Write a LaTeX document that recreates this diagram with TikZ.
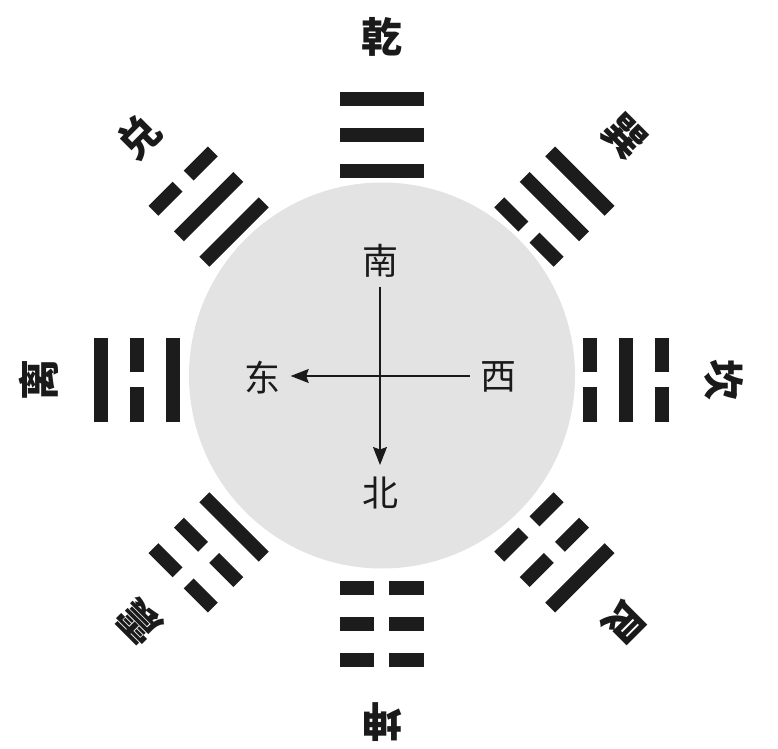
\documentclass[tikz,border=0pt]{standalone}
\usepackage{fontspec}
\newfontfamily\cjk{Noto Sans CJK SC}
\usetikzlibrary{arrows.meta}
\definecolor{barcol}{RGB}{28,28,28}
\definecolor{disccol}{RGB}{227,227,227}
\definecolor{txtcol}{RGB}{26,26,26}
\tikzset{
  bar/.style={fill=barcol},
  disc/.style={fill=disccol},
  guaname/.style={text=txtcol, inner sep=0pt, font=\cjk\bfseries\fontsize{41}{41}\selectfont},
  dirname/.style={text=txtcol, inner sep=0pt, font=\cjk\fontsize{36}{36}\selectfont},
  compass/.style={draw=txtcol, line width=1.3pt, -{Stealth[length=18pt,width=14pt,inset=2.5pt]}},
  plainline/.style={draw=txtcol, line width=1.3pt}
}
\begin{document}
\begin{tikzpicture}[x=1pt,y=1pt]
\useasboundingbox (0,0) rectangle (778,748);
% grey disc
\fill[disc] (382,372.5) circle (193);
% trigrams and their names
\coordinate (T) at (381.5,368.5);
\foreach \ang/\lab/\a/\b/\c [count=\i] in
  {90/乾/1/1/1, 45/巽/0/1/1, 0/坎/0/1/0, -45/艮/0/0/1,
   -90/坤/0/0/0, -135/震/1/0/0, 180/离/1/0/1, 135/兑/1/1/0}{
  \begin{scope}[shift={(T)}, rotate=\ang-90]
    \foreach \r/\v in {208.5/\a, 244.5/\b, 280.5/\c}{
      \ifnum\v=1
        \fill[bar] (-42,\r-7) rectangle (42,\r+7);
      \else
        \fill[bar] (-42,\r-7) rectangle (-7.8,\r+7);
        \fill[bar] (7.8,\r-7) rectangle (42,\r+7);
      \fi
    }
    \node[guaname, rotate=\ang-90] (G\i) at (0,343) {\lab};
  \end{scope}
}
% compass
\node[dirname] (S) at (380,487) {南};
\node[dirname] (N) at (380,255) {北};
\node[dirname] (E) at (262,370.5) {东};
\node[dirname] (W) at (498,371.5) {西};
\coordinate (vs) at (380,461.3);
\coordinate (ve) at (380,283);
\coordinate (hs) at (470,372);
\coordinate (he) at (290.7,372);
\draw[compass] (hs) -- (he);
\draw[compass] (vs) -- (ve);
\end{tikzpicture}
\end{document}
